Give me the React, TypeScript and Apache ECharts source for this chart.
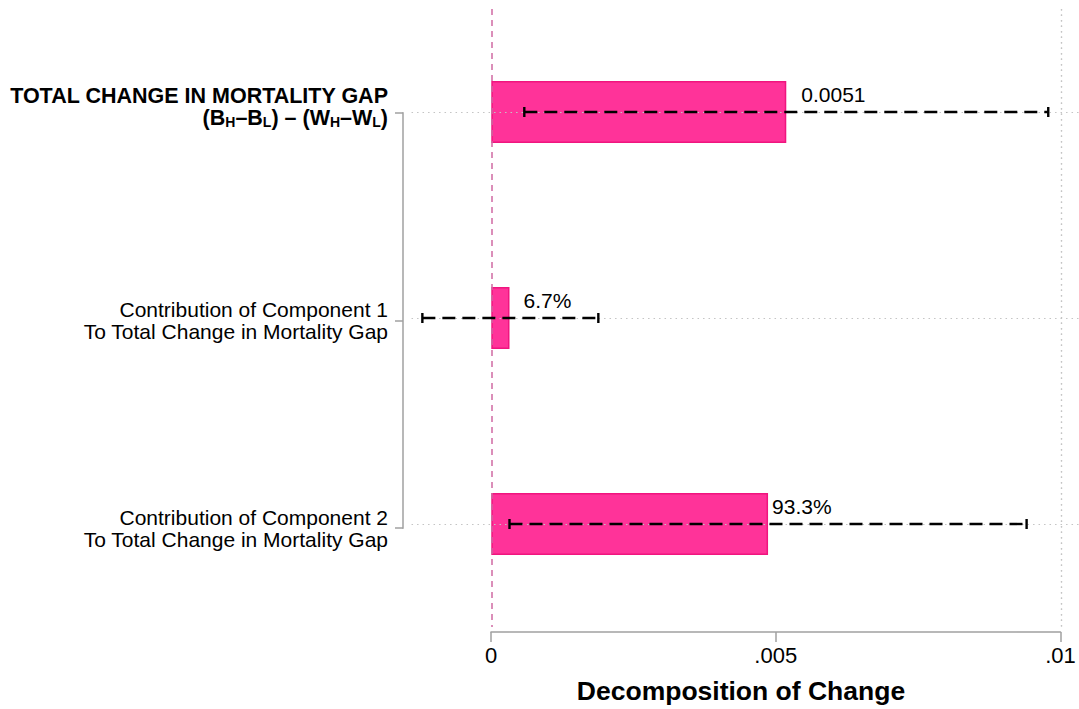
import React, { useEffect, useRef } from "react";
import * as echarts from "echarts";

// ---- data ----
const categoryLines1 = [
  "TOTAL CHANGE IN MORTALITY GAP",
  "Contribution of Component 1",
  "Contribution of Component 2",
];
const categoryLines2 = [
  "{sb|(B}{sub|H}{sb|–B}{sub|L}{sb|) – (W}{sub|H}{sb|–W}{sub|L}{sb|)}",
  "{n|To Total Change in Mortality Gap}",
  "{n|To Total Change in Mortality Gap}",
];
const barValues = [0.00518, 0.00032, 0.00486];
const barLabels = ["0.0051", "6.7%", "93.3%"];
const ciLow = [0.00058, -0.00121, 0.00032];
const ciHigh = [0.00978, 0.00188, 0.0094];
const xTicks = [0, 0.005, 0.01];
const xTickLabels = ["0", ".005", ".01"];

// ---- styling ----
const FONT = "'Liberation Sans', Arial, Helvetica, sans-serif";
const X_MIN = -0.00155;
const X_MAX = 0.01032;
const HGRID_START = -0.0014;
const labelOffsets = [
  [10, -18],
  [9, -18],
  [-1, -18],
];
const categoryPadding = [
  [0, 0, 12, 0],
  [0, 0, 0, 0],
  [0, 0, 0, 0],
];

export default function App() {
  const ref = useRef<HTMLDivElement>(null);
  useEffect(() => {
    document.body.style.margin = "0";
    const chart = echarts.init(ref.current!, null, { renderer: "svg" });
    const idx = barValues.map((_, i) => i);
    const gridLine = { color: "#c4c4c4", type: [1.5, 4], width: 1.2 };
    const option: any = {
      animation: false,
      backgroundColor: "#ffffff",
      textStyle: { fontFamily: FONT },
      grid: [
        { left: 403, right: 0, top: 9, bottom: 77 },
        { left: 403, right: 0, top: 112.8, bottom: 180.8 },
        { left: 491, right: 18.5, top: 9, bottom: 77 },
      ],
      xAxis: [
        {
          gridIndex: 0,
          type: "value",
          min: X_MIN,
          max: X_MAX,
          axisLine: { show: false },
          axisTick: { show: false },
          axisLabel: { show: false },
          splitLine: { show: false },
          name: "Decomposition of Change",
          nameLocation: "middle",
          nameGap: 50,
          nameTextStyle: {
            fontFamily: FONT,
            fontWeight: "bold",
            fontSize: 26.5,
            color: "#000",
          },
        },
        {
          gridIndex: 1,
          type: "value",
          min: 0,
          max: 1,
          axisLine: { show: false },
          axisTick: { show: false },
          axisLabel: { show: false },
          splitLine: { show: false },
        },
        {
          gridIndex: 2,
          type: "value",
          min: 0,
          max: 0.01,
          interval: 0.005,
          axisLine: { show: true, lineStyle: { color: "#a0a0a0", width: 1.5 } },
          axisTick: { show: true, length: 10, lineStyle: { color: "#a0a0a0", width: 1.5 } },
          axisLabel: {
            margin: 12,
            fontFamily: FONT,
            fontSize: 22,
            color: "#000",
            formatter: (v: number) => {
              const k = xTicks.findIndex((t) => Math.abs(t - v) < 1e-9);
              return k >= 0 ? xTickLabels[k] : "";
            },
          },
          splitLine: { show: false },
        },
      ],
      yAxis: [
        {
          gridIndex: 0,
          type: "category",
          inverse: true,
          data: categoryLines1,
          axisLine: { show: false },
          axisTick: { show: false },
          axisLabel: { show: false },
          splitLine: { show: false },
        },
        {
          gridIndex: 1,
          type: "category",
          inverse: true,
          boundaryGap: false,
          data: categoryLines1.map((c, i) => ({
            value: c,
            textStyle: { padding: categoryPadding[i] },
          })),
          axisLine: { show: true, lineStyle: { color: "#a0a0a0", width: 1.5 } },
          axisTick: { show: true, length: 8, lineStyle: { color: "#a0a0a0", width: 1.5 } },
          splitLine: { show: false },
          axisLabel: {
            margin: 15,
            color: "#000",
            fontFamily: FONT,
            formatter: (_v: string, i: number) => {
              const first = i === 0 ? `{b|${categoryLines1[i]}}` : `{n|${categoryLines1[i]}}`;
              return first + "\n" + categoryLines2[i];
            },
            rich: {
              b: { fontFamily: FONT, fontSize: 21.5, fontWeight: "bold", lineHeight: 22, color: "#000" },
              sb: { fontFamily: FONT, fontSize: 21.5, fontWeight: "bold", lineHeight: 22, color: "#000" },
              sub: {
                fontFamily: FONT,
                fontSize: 14,
                fontWeight: "bold",
                lineHeight: 14,
                verticalAlign: "bottom",
                color: "#000",
              },
              n: { fontFamily: FONT, fontSize: 21, lineHeight: 22, color: "#000" },
            },
          },
        },
        {
          gridIndex: 2,
          type: "value",
          min: 0,
          max: 1,
          axisLine: { show: false },
          axisTick: { show: false },
          axisLabel: { show: false },
          splitLine: { show: false },
        },
      ],
      series: [
        {
          type: "scatter",
          xAxisIndex: 0,
          yAxisIndex: 0,
          data: [[X_MAX, 0]],
          symbolSize: 0,
          z: 0,
          silent: true,
          markLine: {
            silent: true,
            symbol: "none",
            label: { show: false },
            animation: false,
            data: [
              ...xTicks.slice(1).map((t) => ({ xAxis: t, lineStyle: gridLine })),
              ...idx.map((i) => [
                { coord: [HGRID_START, i], lineStyle: gridLine },
                { coord: [X_MAX, i] },
              ]),
            ],
          },
        },
        {
          type: "bar",
          xAxisIndex: 0,
          yAxisIndex: 0,
          barWidth: 62,
          z: 2,
          itemStyle: { color: "#ff3399", borderColor: "#f0157f", borderWidth: 1.5 },
          data: barValues.map((v, i) => ({
            value: v,
            label: {
              show: true,
              position: "right",
              offset: labelOffsets[i],
              formatter: barLabels[i],
              fontFamily: FONT,
              fontSize: 21,
              color: "#000",
            },
          })),
          markLine: {
            silent: true,
            symbol: "none",
            label: { show: false },
            animation: false,
            data: [{ xAxis: 0, lineStyle: { color: "#d06aa3", type: [6, 5], width: 1.5 } }],
          },
        },
        {
          type: "custom",
          xAxisIndex: 0,
          yAxisIndex: 0,
          z: 5,
          silent: true,
          data: idx.map((i) => [i, ciLow[i], ciHigh[i]]),
          encode: { x: [1, 2], y: 0 },
          renderItem: (_params: any, api: any) => {
            const c = api.value(0);
            const p1 = api.coord([api.value(1), c]);
            const p2 = api.coord([api.value(2), c]);
            const h = 5;
            const st = { stroke: "#000", lineWidth: 2.4 };
            return {
              type: "group",
              children: [
                {
                  type: "line",
                  shape: { x1: p1[0], y1: p1[1], x2: p2[0], y2: p2[1] },
                  style: { ...st, lineDash: [13, 7] },
                },
                {
                  type: "line",
                  shape: { x1: p1[0], y1: p1[1] - h, x2: p1[0], y2: p1[1] + h },
                  style: st,
                },
                {
                  type: "line",
                  shape: { x1: p2[0], y1: p2[1] - h, x2: p2[0], y2: p2[1] + h },
                  style: st,
                },
              ],
            };
          },
        },
      ],
    };
    chart.setOption(option);
    return () => chart.dispose();
  }, []);
  return (
    <div
      ref={ref}
      style={{ position: "fixed", left: 0, top: 0, width: 1079, height: 709 }}
    />
  );
}
